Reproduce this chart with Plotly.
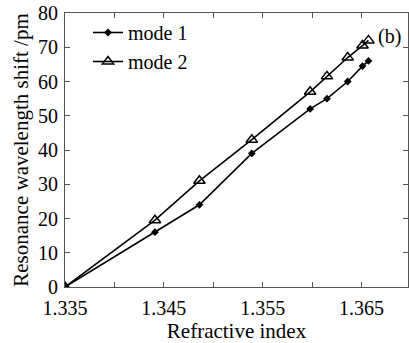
import plotly.graph_objects as go

refractive_index = [1.3350, 1.3441, 1.3486, 1.3539, 1.3598, 1.3615, 1.3636, 1.3651, 1.3657]
mode1_shift = [0, 16, 24, 39, 52, 55, 60, 64.5, 66]
mode2_shift = [0, 19.5, 31, 43, 57, 61.5, 67, 70.5, 72]
x_tick_values = [1.335, 1.345, 1.355, 1.365]
x_tick_labels = ["1.335", "1.345", "1.355", "1.365"]
y_tick_values = [0, 10, 20, 30, 40, 50, 60, 70, 80]

FONT = "Liberation Serif"

fig = go.Figure()
fig.add_trace(go.Scatter(
    x=refractive_index, y=mode1_shift, name="mode 1", mode="lines+markers",
    line=dict(color="black", width=1.6),
    marker=dict(symbol="diamond", size=6, color="black"),
))
fig.add_trace(go.Scatter(
    x=refractive_index, y=mode2_shift, name="mode 2", mode="lines+markers",
    line=dict(color="black", width=1.6),
    marker=dict(symbol="triangle-up-open", size=10, color="black", line=dict(width=1.5)),
))

axis_common = dict(
    showline=True, linecolor="#555", linewidth=1, mirror="ticks",
    ticks="inside", ticklen=5, tickcolor="#555", showgrid=False, zeroline=False,
    tickfont=dict(family=FONT, size=20, color="black"),
)
fig.update_xaxes(
    range=[1.335, 1.3697], tickvals=x_tick_values, ticktext=x_tick_labels,
    minor=dict(tickvals=[1.340, 1.350, 1.360], ticks="inside", ticklen=5, tickcolor="#555"),
    title=dict(text="Refractive index", font=dict(family=FONT, size=21, color="black"), standoff=2),
    ticklabelstandoff=3,
    **axis_common,
)
fig.update_yaxes(
    range=[0, 80], tickvals=y_tick_values,
    title=dict(text="Resonance wavelength shift /pm", font=dict(family=FONT, size=21, color="black"), standoff=3),
    ticklabelstandoff=2,
    **axis_common,
)
fig.add_annotation(x=0.985, y=0.865, xref="paper", yref="paper", text="(b)", showarrow=False,
                   xanchor="right", yanchor="bottom",
                   font=dict(family=FONT, size=20, color="black"))
fig.update_layout(
    width=409, height=343,
    margin=dict(l=65, r=1, t=13, b=56),
    paper_bgcolor="white", plot_bgcolor="white",
    font=dict(family=FONT, size=20, color="black"),
    legend=dict(x=0.067, y=1.0, xanchor="left", yanchor="top", bgcolor="rgba(0,0,0,0)",
                font=dict(family=FONT, size=20), tracegroupgap=0, itemwidth=30),
    showlegend=True,
)
fig.write_html("out.html", config={"displayModeBar": False},
               post_script="document.body.style.margin='0';document.body.style.padding='0';")
